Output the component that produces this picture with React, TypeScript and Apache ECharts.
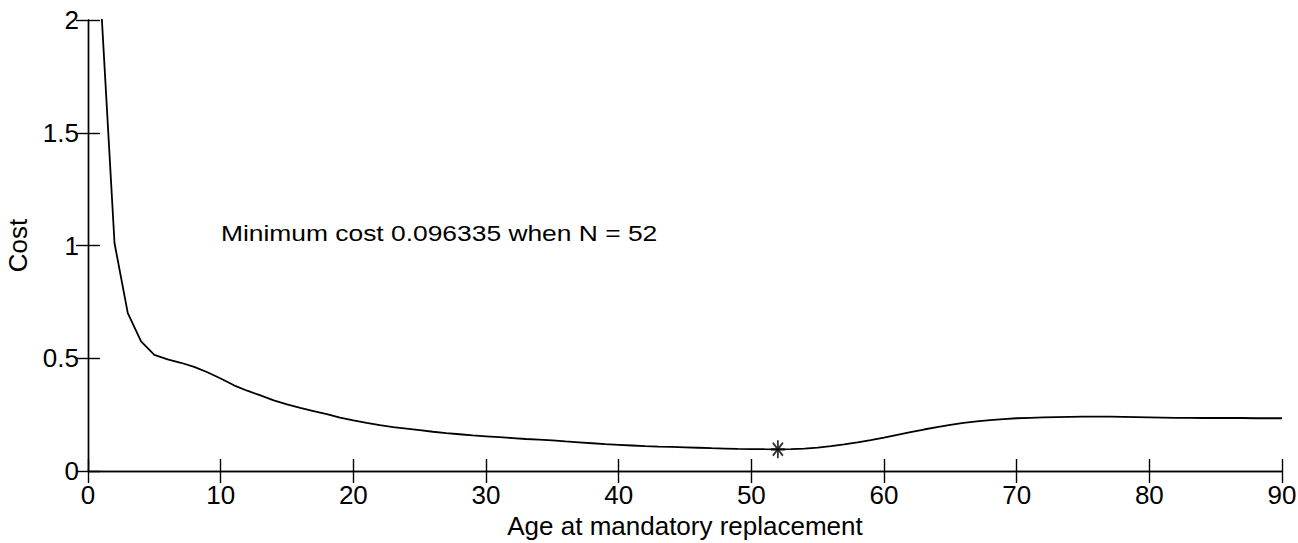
import React, { useEffect, useRef } from "react";
import * as echarts from "echarts";

const ages = [
  1, 2, 3, 4, 5, 6, 7, 8, 9, 10, 11, 12, 13, 14, 15, 16, 17, 18, 19, 20, 21, 22, 23, 24, 25, 26, 27, 28, 29, 30,
  31, 32, 33, 34, 35, 36, 37, 38, 39, 40, 41, 42, 43, 44, 45, 46, 47, 48, 49, 50, 51, 52, 53, 54, 55, 56, 57, 58, 59, 60,
  61, 62, 63, 64, 65, 66, 67, 68, 69, 70, 71, 72, 73, 74, 75, 76, 77, 78, 79, 80, 81, 82, 83, 84, 85, 86, 87, 88, 89, 90,
];
const costs = [
  2.05, 1.01, 0.7, 0.575, 0.515, 0.495, 0.48, 0.462, 0.438, 0.41, 0.38, 0.356, 0.335, 0.313, 0.295, 0.28, 0.266, 0.252, 0.237, 0.224,
  0.213, 0.203, 0.195, 0.188, 0.181, 0.174, 0.168, 0.163, 0.158, 0.154, 0.15, 0.146, 0.142, 0.139, 0.136, 0.131, 0.127, 0.123, 0.119, 0.116,
  0.113, 0.11, 0.108, 0.107, 0.105, 0.103, 0.101, 0.0995, 0.098, 0.097, 0.0966, 0.096335, 0.0967, 0.099, 0.104, 0.11, 0.118, 0.127, 0.137, 0.148,
  0.16, 0.172, 0.184, 0.195, 0.205, 0.213, 0.22, 0.226, 0.23, 0.234, 0.236, 0.238, 0.239, 0.24, 0.241, 0.241, 0.241, 0.24, 0.239, 0.238,
  0.237, 0.236, 0.236, 0.235, 0.235, 0.235, 0.235, 0.234, 0.234, 0.234,
];
const minAge = 52;
const minCost = 0.096335;
const annotation = "Minimum cost 0.096335 when N = 52";
const xTitle = "Age at mandatory replacement";
const yTitle = "Cost";

const FONT = "'Liberation Sans', Arial, Helvetica, sans-serif";

export default function App() {
  const ref = useRef<HTMLDivElement>(null);
  useEffect(() => {
    if (!ref.current) return;
    const chart = echarts.init(ref.current, null, { renderer: "svg" });
    const axisLine = { show: true, lineStyle: { color: "#000", width: 1.4 } };
    const tick = { show: true, inside: true, length: 12, lineStyle: { color: "#000", width: 1.4 } };
    const label = { color: "#000", fontSize: 26, fontFamily: FONT };
    chart.setOption({
      animation: false,
      backgroundColor: "#fff",
      grid: { left: 88, right: 16, top: 20, bottom: 72, containLabel: false, outerBoundsMode: "none" },
      xAxis: [
        {
          type: "value", min: 0, max: 90, interval: 10, position: "bottom",
          axisLine, axisTick: tick, splitLine: { show: false },
          axisLabel: { ...label, margin: 11 },
          name: xTitle, nameLocation: "middle", nameGap: 40,
          nameTextStyle: { color: "#000", fontSize: 26, fontFamily: FONT },
        },
        {
          type: "value", min: 0, max: 90, interval: 10, position: "top",
          axisLine, axisTick: tick, splitLine: { show: false }, axisLabel: { show: false },
        },
      ],
      yAxis: [
        {
          type: "value", min: 0, max: 2, interval: 0.5, position: "left",
          axisLine, axisTick: tick, splitLine: { show: false },
          axisLabel: { ...label, margin: 9 },
          name: yTitle, nameLocation: "middle", nameGap: 57, nameRotate: 90,
          nameTextStyle: { color: "#000", fontSize: 26, fontFamily: FONT },
        },
        {
          type: "value", min: 0, max: 2, interval: 0.5, position: "right",
          axisLine, axisTick: tick, splitLine: { show: false }, axisLabel: { show: false },
        },
      ],
      series: [
        {
          type: "line",
          data: ages.map((a, i) => [a, costs[i]]),
          showSymbol: false,
          symbol: "none",
          clip: true,
          lineStyle: { color: "#000", width: 1.8 },
          silent: true,
        },
        {
          type: "scatter",
          data: [[minAge, minCost]],
          symbol: "path://M0,-1L0,1M-1,0L1,0M-0.72,-0.72L0.72,0.72M-0.72,0.72L0.72,-0.72",
          symbolSize: [14, 18],
          itemStyle: { color: "none", borderColor: "#000", borderWidth: 2 },
          silent: true,
        },
      ],
      graphic: [
        {
          type: "text",
          x: 221,
          y: 222,
          scaleX: 1.2,
          style: { text: annotation, fill: "#000", fontSize: 22, fontFamily: FONT },
        },
      ],
    });
    return () => chart.dispose();
  }, []);
  return <div ref={ref} style={{ position: "fixed", left: 0, top: 0, width: 1298, height: 543 }} />;
}
